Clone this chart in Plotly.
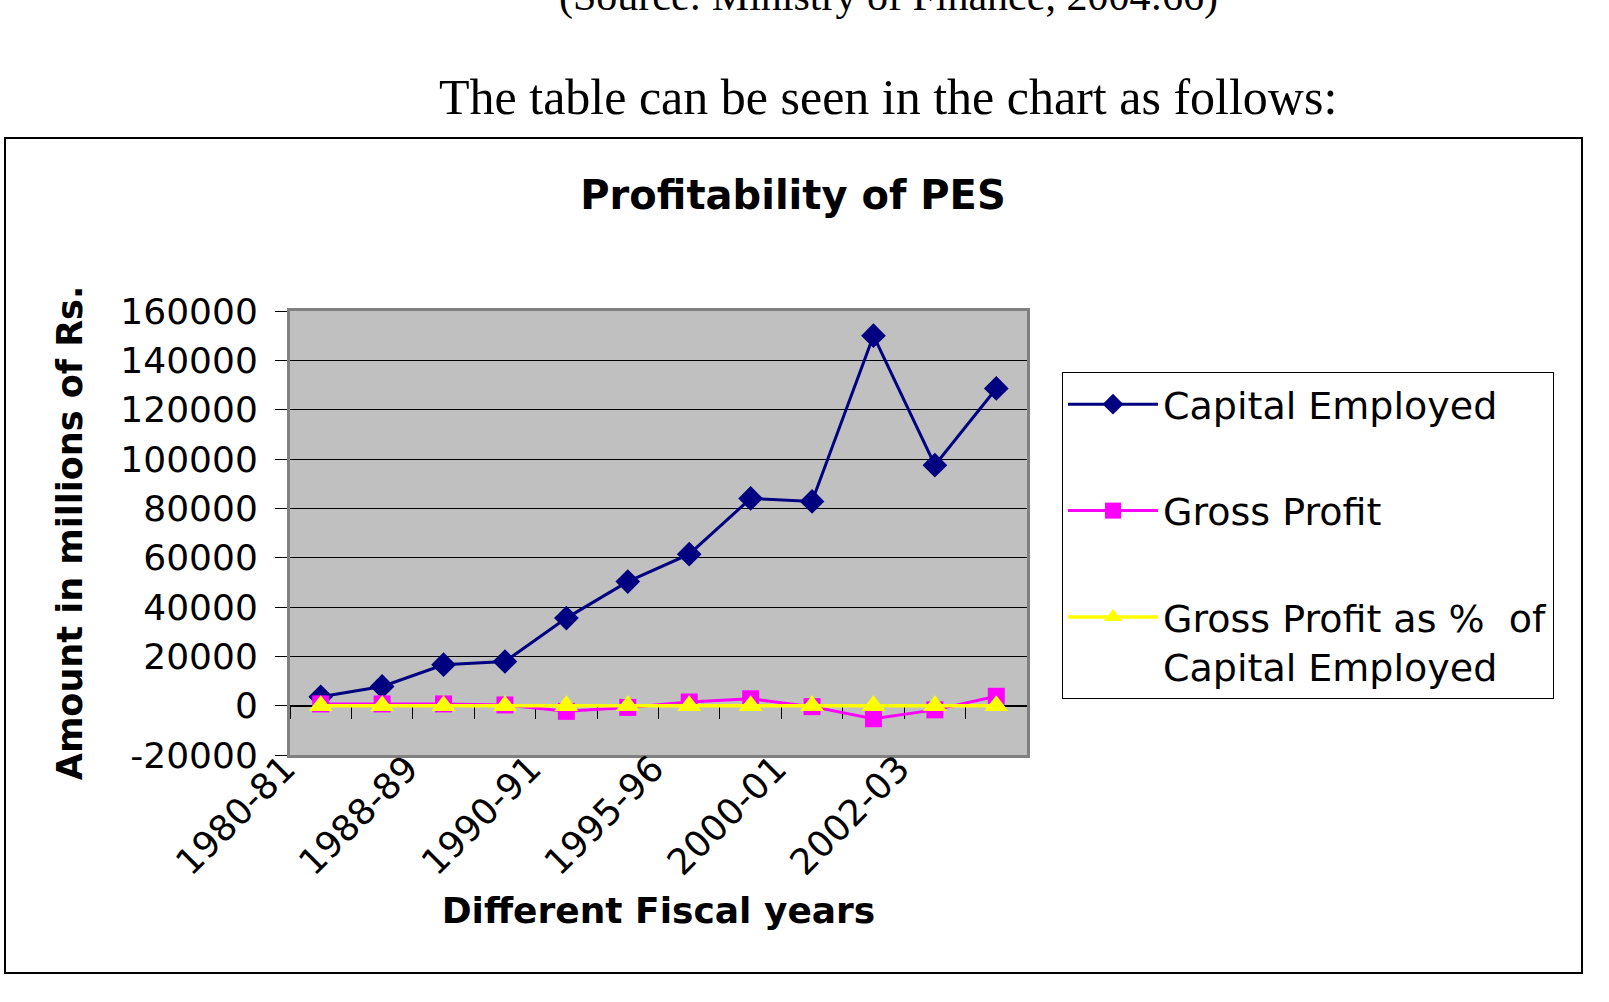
import plotly.graph_objects as go

# ---------------- data ----------------
fiscal_year_labels = ["1980-81", "1988-89", "1990-91", "1995-96", "2000-01", "2002-03"]
n_years = 12
label_every = 2
capital_employed = [3600, 7800, 16600, 17900, 35500, 50300, 61400, 84000, 82800, 150000, 97500, 128600]
gross_profit = [700, 700, 700, 300, -2300, -700, 1500, 2800, -400, -5300, -1700, 3800]
gross_profit_pct = [5.7, 4.2, 2.6, 1.8, -6.4, -1.4, 2.4, 3.3, -0.5, -3.5, -1.7, 3.0]
y_min, y_max, y_step = -20000, 160000, 20000
y_ticks = list(range(y_min, y_max + 1, y_step))
y_tick_text = [str(v) for v in y_ticks]

# ---------------- layout helpers ----------------
W, H = 1609, 1002
L, R, T, B = 290, 1027, 311, 755


def fx(p):
    return (p - L) / (R - L)


def fy(p):
    return (B - p) / (B - T)


x_idx = list(range(n_years))
label_pos = x_idx[::label_every]
boundaries = [i - 0.5 for i in range(n_years + 1)]
zero_frac = (0 - y_min) / (y_max - y_min)
FONT = "DejaVu Sans"

fig = go.Figure()
fig.add_trace(go.Scatter(
    x=x_idx, y=capital_employed, name="Capital Employed", mode="lines+markers",
    line=dict(color="#000080", width=3),
    marker=dict(symbol="diamond", size=19, color="#000080", line=dict(width=0)),
    legendgroup="g1"))
fig.add_trace(go.Scatter(
    x=x_idx, y=gross_profit, name="Gross Profit", mode="lines+markers",
    line=dict(color="#FF00FF", width=3),
    marker=dict(symbol="square", size=17, color="#FF00FF", line=dict(width=0)),
    legendgroup="g2"))
fig.add_trace(go.Scatter(
    x=x_idx, y=gross_profit_pct,
    name="Gross Profit as %&nbsp; of<br>Capital Employed",
    mode="lines+markers", xaxis="x2",
    line=dict(color="#FFFF00", width=3.5),
    marker=dict(symbol="triangle-up", size=21, color="#FFFF00", line=dict(width=0)),
    legendgroup="g3"))

fig.update_layout(
    width=W, height=H, autosize=False,
    margin=dict(l=L, r=W - R, t=T, b=H - B, pad=0),
    paper_bgcolor="white", plot_bgcolor="#C0C0C0",
    font=dict(family=FONT, color="black"),
    title=dict(text="Profitability of PES", xref="container", yref="container",
               x=793 / W, y=1 - 195 / H, xanchor="center", yanchor="middle",
               font=dict(family=FONT, size=40, weight="bold", color="black")),
    xaxis=dict(range=[-0.5, n_years - 0.5], tickmode="array", tickvals=label_pos,
               ticktext=fiscal_year_labels, tickangle=-45, ticks="",
               ticklabelshift=-36, ticklabelstandoff=-25,
               tickfont=dict(family=FONT, size=36, color="black"),
               showline=True, linecolor="#808080", linewidth=3, mirror=True,
               showgrid=False, zeroline=False,
               title=dict(text="Different Fiscal years", standoff=16,
                          font=dict(family=FONT, size=36, weight="bold", color="black"))),
    xaxis2=dict(range=[-0.5, n_years - 0.5], overlaying="x", anchor="free",
                position=zero_frac, tickmode="array", tickvals=boundaries,
                ticks="outside", ticklen=12, tickwidth=1, tickcolor="black",
                showticklabels=False, showline=True, linecolor="black", linewidth=1,
                showgrid=False, zeroline=False, layer="below traces"),
    yaxis=dict(range=[y_min, y_max], tickmode="array", tickvals=y_ticks,
               ticktext=y_tick_text,
               ticks="outside", ticklen=12, tickwidth=1, tickcolor="black",
               ticklabelstandoff=10,
               tickfont=dict(family=FONT, size=36, color="black"),
               showgrid=True, gridcolor="black", gridwidth=1, zeroline=False,
               showline=True, linecolor="#808080", linewidth=3, mirror=True,
               title=dict(text="Amount in millions of Rs.", standoff=28,
                          font=dict(family=FONT, size=35, weight="bold", color="black"))),
    legend=dict(x=fx(1062), y=fy(372), xanchor="left", yanchor="top",
                bgcolor="white", bordercolor="black", borderwidth=1,
                font=dict(family=FONT, size=38, color="black"),
                itemwidth=90, tracegroupgap=54, valign="top"),
    showlegend=True,
)

# outer chart frame
fig.add_shape(type="rect", xref="paper", yref="paper",
              x0=fx(5), x1=fx(1582), y0=fy(973), y1=fy(138),
              line=dict(color="black", width=2), fillcolor="rgba(0,0,0,0)", layer="below")

# surrounding document text
fig.add_annotation(text="(Source: Ministry of Finance, 2004:66)", xref="paper", yref="paper",
                   x=fx(888), y=fy(-4), xanchor="center", yanchor="middle", showarrow=False,
                   font=dict(family="Liberation Serif", size=42, color="black"))
fig.add_annotation(text="The table can be seen in the chart as follows:", xref="paper", yref="paper",
                   x=fx(888), y=fy(97), xanchor="center", yanchor="middle", showarrow=False,
                   font=dict(family="Liberation Serif", size=50, color="black"))

fig.write_html("out.html")
